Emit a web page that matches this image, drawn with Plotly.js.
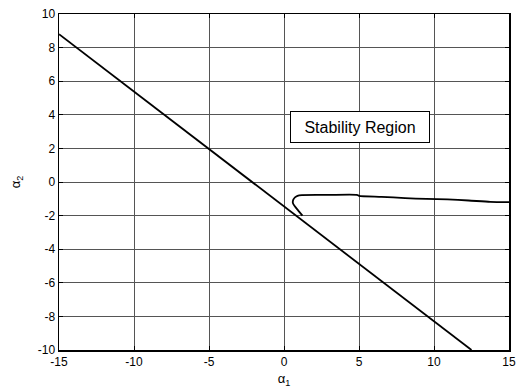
<!DOCTYPE html>
<html>
<head>
<meta charset="utf-8">
<script src="https://cdn.plot.ly/plotly-3.0.1.min.js"></script>
<style>html,body{margin:0;padding:0;background:#fff;}#chart{width:518px;height:392px;}</style>
</head>
<body>
<div id="chart"></div>
<script>
// Straight boundary line
const lineX = [-15, 12.5];
const lineY = [8.8, -10];
// Curved stability boundary
const curveX = [1.23, 0.95, 0.72, 0.59, 0.62, 0.75, 0.9, 1.19, 2.5, 4.86, 5.0, 6.5, 8.07, 9.5, 10.9, 12.3, 13.75, 15];
const curveY = [-2.0, -1.7, -1.45, -1.24, -1.05, -0.9, -0.82, -0.78, -0.77, -0.76, -0.82, -0.88, -0.96, -1.01, -1.04, -1.1, -1.18, -1.2];
const xTicks = [-15, -10, -5, 0, 5, 10, 15];
const yTicks = [-10, -8, -6, -4, -2, 0, 2, 4, 6, 8, 10];
const labelText = 'Stability Region';

const FONT = 'Liberation Sans, Arial, sans-serif';
const axisCommon = {
  showline: true, linecolor: '#000', linewidth: 1.5, mirror: 'ticks',
  ticks: 'inside', ticklen: 4, tickcolor: '#000',
  showgrid: true, gridcolor: '#555', gridwidth: 1,
  zeroline: false,
  tickfont: {family: FONT, size: 12, color: '#000'}
};

const data = [
  {x: lineX, y: lineY, mode: 'lines', line: {color: '#000', width: 1.8}, hoverinfo: 'skip'},
  {x: curveX, y: curveY, mode: 'lines', line: {color: '#000', width: 1.8, shape: 'spline', smoothing: 0.6}, hoverinfo: 'skip'}
];

const layout = {
  width: 518, height: 392,
  margin: {l: 59, r: 9, t: 14, b: 42},
  paper_bgcolor: '#fff', plot_bgcolor: '#fff',
  showlegend: false,
  xaxis: Object.assign({}, axisCommon, {
    range: [-15, 15], tickvals: xTicks, ticktext: xTicks.map(String),
    title: {text: 'α<sub>1</sub>', standoff: 6, font: {family: FONT, size: 13, color: '#000'}}
  }),
  yaxis: Object.assign({}, axisCommon, {
    range: [-10, 10], tickvals: yTicks, ticktext: yTicks.map(String),
    title: {text: 'α<sub>2</sub>', standoff: 14, font: {family: FONT, size: 13, color: '#000'}}
  }),
  annotations: [{
    x: 5.08, y: 3.27, xref: 'x', yref: 'y', text: labelText, showarrow: false,
    font: {family: FONT, size: 16, color: '#000'},
    width: 128, height: 20, align: 'center',
    bgcolor: '#fff', bordercolor: '#000', borderwidth: 1, borderpad: 5
  }]
};

Plotly.newPlot('chart', data, layout, {displayModeBar: false, staticPlot: true});
</script>
</body>
</html>
